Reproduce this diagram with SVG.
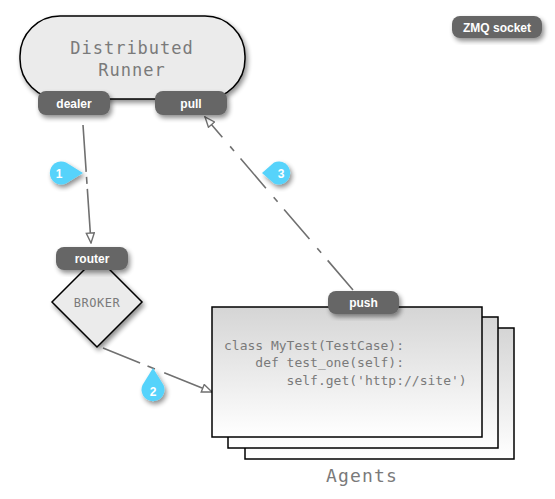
<svg xmlns="http://www.w3.org/2000/svg" width="555" height="499" viewBox="0 0 555 499">
<defs>
<filter id="sh" x="-20%" y="-20%" width="150%" height="150%">
<feGaussianBlur in="SourceAlpha" stdDeviation="2.5"/>
<feOffset dx="2" dy="3" result="b"/>
<feComponentTransfer><feFuncA type="linear" slope="0.45"/></feComponentTransfer>
<feMerge><feMergeNode/><feMergeNode in="SourceGraphic"/></feMerge>
</filter>
<linearGradient id="gr" x1="0" y1="0" x2="0" y2="1">
<stop offset="0" stop-color="#d5d5d5"/>
<stop offset="1" stop-color="#ffffff"/>
</linearGradient>
<marker id="ah" viewBox="0 0 12 10" refX="11" refY="5" markerWidth="12" markerHeight="10" markerUnits="userSpaceOnUse" orient="auto">
<path d="M1,1 L11,5 L1,9 Z" fill="#fff" stroke="#707070" stroke-width="1.4"/>
</marker>
</defs>
<style>
.pill{fill:#666;}
.pt{font-family:"Liberation Sans",Arial,sans-serif;font-weight:bold;font-size:12px;fill:#fff;text-anchor:middle;}
.mono{font-family:"DejaVu Sans Mono","Liberation Mono",monospace;fill:#7a7a7a;}
.conn{fill:none;stroke:#707070;stroke-width:1.6;}
.bub{fill:#57d3fb;}
.bt{font-family:"Liberation Sans",Arial,sans-serif;font-weight:bold;font-size:12px;fill:#fff;text-anchor:middle;}
.box{stroke:#000;stroke-width:1.5;fill:url(#gr);}
</style>
<rect width="555" height="499" fill="#fff"/>

<g id="legend">
<rect class="pill" x="452" y="16" width="90" height="22" rx="8" filter="url(#sh)"/>
<text class="pt" x="497" y="31.5">ZMQ socket</text>
</g>

<g id="connectors">
<path class="conn" d="M83,125 L91,243" stroke-dasharray="47 5 7 5 200" marker-end="url(#ah)"/>
<path class="conn" d="M103,348 L212,392" stroke-dasharray="40 8 8 10 200" marker-end="url(#ah)"/>
<path class="conn" d="M353,290 L205,117" stroke-dasharray="39 10 6 12" marker-end="url(#ah)"/>
</g>

<g id="runner">
<rect x="20" y="16" width="225" height="83" rx="40" fill="#ebebeb" stroke="#000" stroke-width="1.5" filter="url(#sh)"/>
<text class="mono" x="132" y="54" font-size="17" letter-spacing="1" text-anchor="middle">Distributed</text>
<text class="mono" x="132" y="76" font-size="17" letter-spacing="1" text-anchor="middle">Runner</text>
</g>
<g id="dealer">
<rect class="pill" x="38" y="91" width="72" height="24" rx="8" filter="url(#sh)"/>
<text class="pt" x="74" y="107.5">dealer</text>
</g>
<g id="pull">
<rect class="pill" x="155" y="91" width="72" height="24" rx="8" filter="url(#sh)"/>
<text class="pt" x="191" y="107.5">pull</text>
</g>

<g id="broker">
<path d="M97,257 L142,302 L97,347 L52,302 Z" fill="#ebebeb" stroke="#000" stroke-width="1.5" filter="url(#sh)"/>
<text class="mono" x="97" y="307" font-size="12" letter-spacing="0.5" text-anchor="middle">BROKER</text>
</g>
<g id="router">
<rect class="pill" x="56" y="247" width="72" height="23" rx="8" filter="url(#sh)"/>
<text class="pt" x="92" y="263">router</text>
</g>

<g id="agents">
<rect class="box" x="245" y="328" width="269" height="131"/>
<rect class="box" x="228" y="317" width="270" height="131"/>
<rect class="box" x="212" y="307" width="270" height="130"/>
<text class="mono" font-size="13" x="224" y="350">class MyTest(TestCase):</text>
<text class="mono" font-size="13" x="224" y="367" xml:space="preserve">    def test_one(self):</text>
<text class="mono" font-size="13" x="224" y="385" xml:space="preserve">        self.get('http://site')</text>
<text class="mono" x="362" y="482" font-size="18" letter-spacing="1.2" text-anchor="middle">Agents</text>
</g>
<g id="push">
<rect class="pill" x="328" y="291" width="71" height="23" rx="8" filter="url(#sh)"/>
<text class="pt" x="363.5" y="307">push</text>
</g>

<g id="label1">
<path class="bub" d="M83,173 L66,162.5 A11.5,11.5 0 1 0 66,183.5 Z" filter="url(#sh)"/>
<text class="bt" x="59" y="177.5">1</text>
</g>
<g id="label2">
<path class="bub" d="M153,368 L163.5,385 A11.5,11.5 0 1 1 142.5,385 Z" filter="url(#sh)"/>
<text class="bt" x="153" y="395.5">2</text>
</g>
<g id="label3">
<path class="bub" d="M262,173 L274,162.5 A11.5,11.5 0 1 1 274,183.5 Z" filter="url(#sh)"/>
<text class="bt" x="281" y="177.5">3</text>
</g>
</svg>
